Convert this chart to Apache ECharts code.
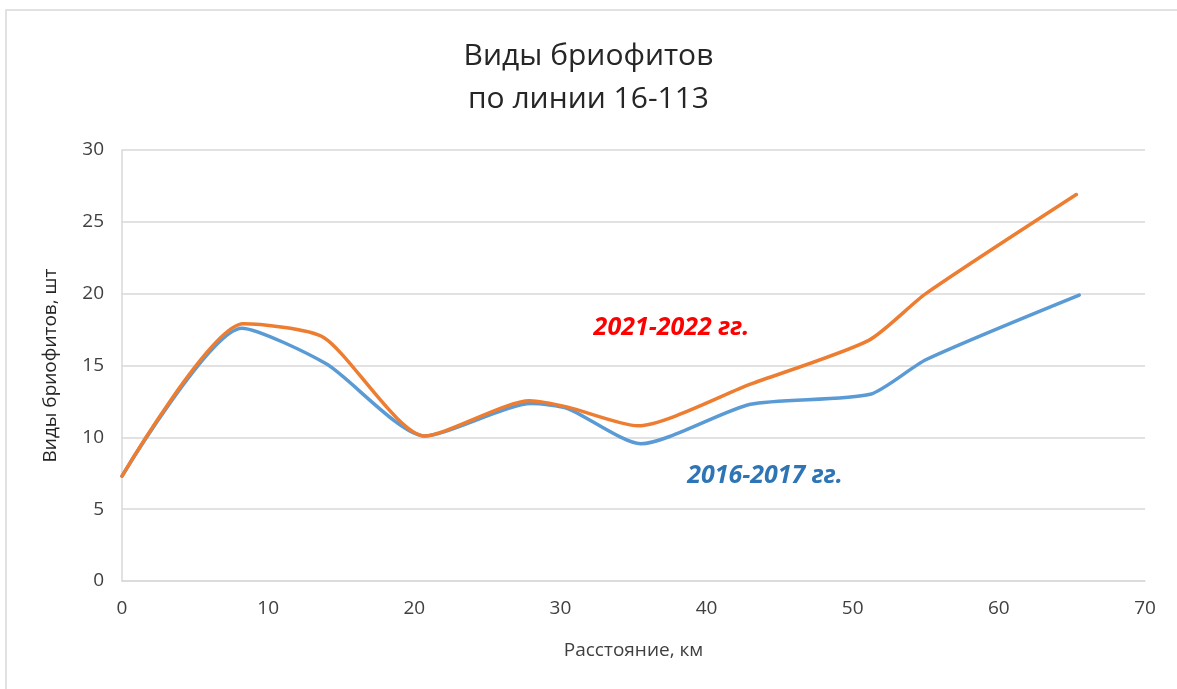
<!DOCTYPE html>
<html>
<head>
<meta charset="utf-8">
<script src="https://cdn.jsdelivr.net/npm/echarts@6/dist/echarts.min.js"></script>
<style>
  html, body { margin: 0; padding: 0; background: #fff; }
  #chart { width: 1177px; height: 689px; }
</style>
</head>
<body>
<div id="chart"></div>
<script>
// distance along the line, km, and species counts per period
const dist2016 = [0, 8.2, 14, 20.7, 28, 30.5, 35.5, 43, 51.2, 55, 65.5]
const vals2016 = [7.3, 17.6, 15.1, 10.1, 12.35, 12.0, 9.55, 12.3, 13.0, 15.4, 19.9]
const dist2021 = [0, 8.3, 13.8, 20.7, 27.9, 30.5, 35.3, 43, 51.1, 55, 65.3]
const vals2021 = [7.3, 17.9, 16.95, 10.1, 12.55, 12.1, 10.8, 13.7, 16.75, 20.0, 26.9]
const xTicks = [0, 10, 20, 30, 40, 50, 60, 70]
const yTicks = [0, 5, 10, 15, 20, 25, 30]
// period captions, placed in data coordinates
const captions = [
    { text: '2021-2022 гг.', at: [37.6, 17.6], color: '#ff0000' },
    { text: '2016-2017 гг.', at: [44.0, 7.3], color: '#2e75b6' }
]

const pairs = (xs, ys) => xs.map((x, i) => [x, ys[i]])

const chart = echarts.init(document.getElementById('chart'))
const fontFamily = '"Open Sans", "Noto Sans", sans-serif'

chart.setOption({
    animation: false,
    backgroundColor: '#fff',
    title: {
        text: 'Виды бриофитов\nпо линии 16-113',
        left: 'center',
        top: 30,
        textStyle: { fontFamily, fontSize: 30, fontWeight: 'normal', color: '#262626', lineHeight: 43 }
    },
    graphic: [{
        type: 'rect',
        shape: { x: 6, y: 10, width: 1200, height: 720 },
        style: { fill: 'none', stroke: '#d9d9d9', lineWidth: 1.5 },
        silent: true
    }],
    grid: { left: 122, top: 150, right: 32, bottom: 108 },
    xAxis: {
        type: 'value',
        min: xTicks[0],
        max: xTicks[xTicks.length - 1],
        interval: 10,
        name: 'Расстояние, км',
        nameLocation: 'middle',
        nameGap: 60,
        nameTextStyle: { fontFamily, fontSize: 19, color: '#404040' },
        axisLine: { show: true, lineStyle: { color: '#d9d9d9', width: 1.5 } },
        axisTick: { show: false },
        axisLabel: { fontFamily, fontSize: 19, color: '#404040', margin: 18 },
        splitLine: { show: false }
    },
    yAxis: {
        type: 'value',
        min: yTicks[0],
        max: yTicks[yTicks.length - 1],
        interval: 5,
        name: 'Виды бриофитов, шт',
        nameLocation: 'middle',
        nameGap: 62,
        nameTextStyle: { fontFamily, fontSize: 19, color: '#262626' },
        axisLine: { show: true, lineStyle: { color: '#d9d9d9', width: 1.5 } },
        axisTick: { show: false },
        axisLabel: { fontFamily, fontSize: 19, color: '#404040', margin: 18 },
        splitLine: { show: true, lineStyle: { color: '#d9d9d9', width: 1.5 } }
    },
    series: [
        {
            name: '2016-2017 гг.',
            type: 'line',
            smooth: 0.22,
            showSymbol: false,
            data: pairs(dist2016, vals2016),
            lineStyle: { color: '#5b9bd5', width: 3.5, cap: 'round' }
        },
        {
            name: '2021-2022 гг.',
            type: 'line',
            smooth: 0.22,
            showSymbol: false,
            data: pairs(dist2021, vals2021),
            lineStyle: { color: '#ed7d31', width: 3.5, cap: 'round' }
        },
        {
            name: 'captions',
            type: 'scatter',
            symbolSize: 2,
            itemStyle: { color: 'rgba(0,0,0,0)', opacity: 1 },
            silent: true,
            data: captions.map(c => ({
                value: c.at,
                label: {
                    show: true,
                    position: 'inside',
                    formatter: c.text,
                    textBorderWidth: 0,
                    fontFamily, fontSize: 25, fontWeight: 'bold', fontStyle: 'italic', color: c.color
                }
            }))
        }
    ]
})
</script>
</body>
</html>
